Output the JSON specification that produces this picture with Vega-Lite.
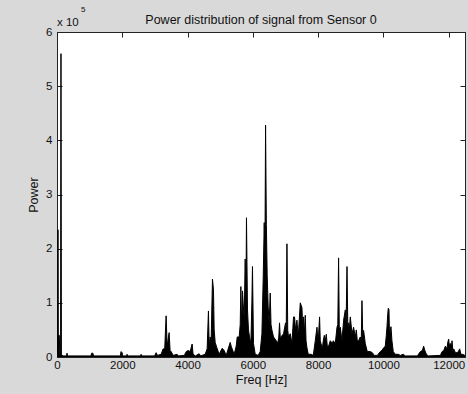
{
  "$schema": "https://vega.github.io/schema/vega-lite/v6.json",
  "width": 408,
  "height": 325,
  "autosize": {"type": "none"},
  "padding": {"left": 57, "top": 32, "right": 3, "bottom": 37},
  "background": "#d9d9d9",
  "config": {
    "view": {"fill": "white", "stroke": "#222", "strokeWidth": 1},
    "font": "Liberation Sans",
    "axis": {"labelFont": "Liberation Sans", "labelFontSize": 11.5, "labelColor": "#111", "titleFont": "Liberation Sans", "titleFontSize": 12.5, "titleFontWeight": "normal", "titleColor": "#111", "domainColor": "#222", "tickColor": "#222", "grid": false}
  },
  "data": {"values": [
    {"freq": 0, "power": 0.4}, {"freq": 20, "power": 0.4}, {"freq": 30, "power": 2.35}, {"freq": 40, "power": 0.4}, {"freq": 70, "power": 0.4}, {"freq": 85, "power": 0.05}, {"freq": 110, "power": 0.05}, {"freq": 122, "power": 5.6}, {"freq": 135, "power": 0.05}, {"freq": 180, "power": 0.02},
    {"freq": 290, "power": 0.02}, {"freq": 307, "power": 0.07}, {"freq": 325, "power": 0.02},
    {"freq": 1040, "power": 0.02}, {"freq": 1060, "power": 0.07}, {"freq": 1100, "power": 0.07}, {"freq": 1120, "power": 0.02},
    {"freq": 1940, "power": 0.02}, {"freq": 1963, "power": 0.1}, {"freq": 1990, "power": 0.02},
    {"freq": 2130, "power": 0.02}, {"freq": 2147, "power": 0.05}, {"freq": 2165, "power": 0.02},
    {"freq": 2560, "power": 0.02}, {"freq": 2576, "power": 0.05}, {"freq": 2595, "power": 0.02},
    {"freq": 2990, "power": 0.02}, {"freq": 3036, "power": 0.08}, {"freq": 3080, "power": 0.03},
    {"freq": 3190, "power": 0.05}, {"freq": 3251, "power": 0.15}, {"freq": 3300, "power": 0.15}, {"freq": 3343, "power": 0.76}, {"freq": 3375, "power": 0.2}, {"freq": 3435, "power": 0.45}, {"freq": 3465, "power": 0.12}, {"freq": 3496, "power": 0.1}, {"freq": 3560, "power": 0.03},
    {"freq": 3680, "power": 0.05}, {"freq": 3720, "power": 0.02},
    {"freq": 3900, "power": 0.03}, {"freq": 3960, "power": 0.1}, {"freq": 4018, "power": 0.12}, {"freq": 4080, "power": 0.1}, {"freq": 4140, "power": 0.24}, {"freq": 4170, "power": 0.05}, {"freq": 4240, "power": 0.02},
    {"freq": 4355, "power": 0.06}, {"freq": 4400, "power": 0.02},
    {"freq": 4539, "power": 0.05}, {"freq": 4600, "power": 0.15}, {"freq": 4640, "power": 0.85}, {"freq": 4662, "power": 0.2}, {"freq": 4692, "power": 0.37}, {"freq": 4723, "power": 0.3}, {"freq": 4763, "power": 1.44}, {"freq": 4794, "power": 1.24}, {"freq": 4815, "power": 0.5}, {"freq": 4846, "power": 0.27}, {"freq": 4898, "power": 0.17}, {"freq": 4968, "power": 0.05},
    {"freq": 5060, "power": 0.16}, {"freq": 5122, "power": 0.12}, {"freq": 5183, "power": 0.03},
    {"freq": 5306, "power": 0.27}, {"freq": 5337, "power": 0.2}, {"freq": 5367, "power": 0.15}, {"freq": 5429, "power": 0.05},
    {"freq": 5490, "power": 0.2}, {"freq": 5521, "power": 0.37}, {"freq": 5582, "power": 0.37}, {"freq": 5613, "power": 0.6}, {"freq": 5633, "power": 1.3}, {"freq": 5658, "power": 0.5}, {"freq": 5683, "power": 1.22}, {"freq": 5705, "power": 0.98}, {"freq": 5735, "power": 0.7}, {"freq": 5766, "power": 1.81}, {"freq": 5787, "power": 0.9}, {"freq": 5805, "power": 2.57}, {"freq": 5836, "power": 0.87}, {"freq": 5867, "power": 0.5}, {"freq": 5898, "power": 0.37}, {"freq": 5940, "power": 0.25}, {"freq": 5970, "power": 1.0}, {"freq": 5989, "power": 1.67}, {"freq": 6020, "power": 0.25}, {"freq": 6073, "power": 0.05}, {"freq": 6164, "power": 0.03},
    {"freq": 6226, "power": 0.1}, {"freq": 6278, "power": 0.43}, {"freq": 6318, "power": 1.48}, {"freq": 6349, "power": 2.48}, {"freq": 6370, "power": 1.8}, {"freq": 6390, "power": 4.28}, {"freq": 6414, "power": 2.45}, {"freq": 6440, "power": 1.5}, {"freq": 6470, "power": 0.93}, {"freq": 6500, "power": 0.6}, {"freq": 6532, "power": 1.18}, {"freq": 6557, "power": 0.6}, {"freq": 6584, "power": 0.5}, {"freq": 6633, "power": 0.37}, {"freq": 6716, "power": 0.3}, {"freq": 6756, "power": 0.25}, {"freq": 6793, "power": 0.35}, {"freq": 6818, "power": 0.63}, {"freq": 6845, "power": 0.3}, {"freq": 6860, "power": 0.37}, {"freq": 6940, "power": 0.43}, {"freq": 7002, "power": 0.63}, {"freq": 7023, "power": 0.5}, {"freq": 7045, "power": 2.09}, {"freq": 7069, "power": 0.5}, {"freq": 7094, "power": 0.37}, {"freq": 7146, "power": 0.43}, {"freq": 7198, "power": 0.25}, {"freq": 7247, "power": 0.74}, {"freq": 7278, "power": 0.74}, {"freq": 7309, "power": 0.5}, {"freq": 7351, "power": 0.68}, {"freq": 7391, "power": 0.37}, {"freq": 7453, "power": 1.0}, {"freq": 7505, "power": 0.91}, {"freq": 7530, "power": 0.5}, {"freq": 7554, "power": 0.74}, {"freq": 7576, "power": 0.4}, {"freq": 7606, "power": 0.77}, {"freq": 7630, "power": 0.3}, {"freq": 7658, "power": 0.17}, {"freq": 7698, "power": 0.05}, {"freq": 7790, "power": 0.05}, {"freq": 7852, "power": 0.03},
    {"freq": 7913, "power": 0.3}, {"freq": 7965, "power": 0.55}, {"freq": 7990, "power": 0.35}, {"freq": 8015, "power": 0.43}, {"freq": 8045, "power": 0.74}, {"freq": 8066, "power": 0.3}, {"freq": 8088, "power": 0.25}, {"freq": 8128, "power": 0.15}, {"freq": 8158, "power": 0.3}, {"freq": 8189, "power": 0.4}, {"freq": 8220, "power": 0.3}, {"freq": 8250, "power": 0.42}, {"freq": 8281, "power": 0.2}, {"freq": 8321, "power": 0.2}, {"freq": 8373, "power": 0.3}, {"freq": 8434, "power": 0.25}, {"freq": 8465, "power": 0.3}, {"freq": 8526, "power": 0.25}, {"freq": 8578, "power": 0.55}, {"freq": 8603, "power": 0.6}, {"freq": 8627, "power": 1.83}, {"freq": 8649, "power": 0.5}, {"freq": 8679, "power": 0.55}, {"freq": 8731, "power": 0.3}, {"freq": 8781, "power": 0.68}, {"freq": 8833, "power": 0.87}, {"freq": 8857, "power": 0.6}, {"freq": 8885, "power": 1.67}, {"freq": 8909, "power": 0.6}, {"freq": 8934, "power": 0.63}, {"freq": 8955, "power": 0.5}, {"freq": 8986, "power": 0.74}, {"freq": 9038, "power": 0.43}, {"freq": 9087, "power": 0.55}, {"freq": 9139, "power": 0.37}, {"freq": 9170, "power": 0.5}, {"freq": 9200, "power": 0.3}, {"freq": 9240, "power": 0.3}, {"freq": 9292, "power": 0.37}, {"freq": 9322, "power": 0.3}, {"freq": 9343, "power": 1.04}, {"freq": 9368, "power": 0.4}, {"freq": 9393, "power": 0.49}, {"freq": 9445, "power": 0.25}, {"freq": 9506, "power": 0.1}, {"freq": 9598, "power": 0.1}, {"freq": 9660, "power": 0.08}, {"freq": 9721, "power": 0.03}, {"freq": 9813, "power": 0.03},
    {"freq": 9905, "power": 0.1}, {"freq": 9966, "power": 0.13}, {"freq": 10006, "power": 0.17}, {"freq": 10058, "power": 0.2}, {"freq": 10089, "power": 0.4}, {"freq": 10110, "power": 0.56}, {"freq": 10134, "power": 0.8}, {"freq": 10150, "power": 0.9}, {"freq": 10171, "power": 0.88}, {"freq": 10190, "power": 0.3}, {"freq": 10211, "power": 0.5}, {"freq": 10232, "power": 0.56}, {"freq": 10262, "power": 0.3}, {"freq": 10302, "power": 0.1}, {"freq": 10364, "power": 0.05}, {"freq": 10456, "power": 0.05}, {"freq": 10517, "power": 0.03}, {"freq": 10609, "power": 0.05}, {"freq": 10671, "power": 0.02},
    {"freq": 11040, "power": 0.02}, {"freq": 11132, "power": 0.1}, {"freq": 11194, "power": 0.12}, {"freq": 11233, "power": 0.2}, {"freq": 11270, "power": 0.12}, {"freq": 11317, "power": 0.05}, {"freq": 11378, "power": 0.02},
    {"freq": 11746, "power": 0.03}, {"freq": 11798, "power": 0.1}, {"freq": 11848, "power": 0.12}, {"freq": 11899, "power": 0.2}, {"freq": 11945, "power": 0.15}, {"freq": 11976, "power": 0.28}, {"freq": 12000, "power": 0.33}, {"freq": 12022, "power": 0.2}, {"freq": 12052, "power": 0.25}, {"freq": 12083, "power": 0.18}, {"freq": 12103, "power": 0.3}, {"freq": 12128, "power": 0.12}, {"freq": 12155, "power": 0.15}, {"freq": 12206, "power": 0.08}, {"freq": 12257, "power": 0.08}, {"freq": 12296, "power": 0.1}, {"freq": 12337, "power": 0.15}, {"freq": 12374, "power": 0.05}, {"freq": 12420, "power": 0.05}, {"freq": 12500, "power": 0.03}
  ]},
  "layer": [
    {
      "mark": {"type": "area", "color": "black", "opacity": 1, "fillOpacity": 1, "interpolate": "linear", "line": {"color": "black", "strokeWidth": 1}},
      "encoding": {
        "x": {"field": "freq", "type": "quantitative", "scale": {"domain": [0, 12500], "nice": false, "zero": false},
              "axis": {"orient": "bottom", "title": "Freq [Hz]", "values": [0, 2000, 4000, 6000, 8000, 10000, 12000], "format": "d", "tickSize": -5, "labelPadding": 7, "labelFlush": false, "titlePadding": 3}},
        "y": {"field": "power", "type": "quantitative", "scale": {"domain": [0, 6], "nice": false},
              "axis": {"orient": "left", "title": "Power", "values": [0, 1, 2, 3, 4, 5, 6], "tickSize": -5, "labelPadding": 10, "titlePadding": 5, "labelFlush": false}}
      }
    },
    {
      "mark": {"type": "point", "opacity": 0},
      "encoding": {
        "x": {"field": "freq", "type": "quantitative", "axis": {"orient": "top", "title": null, "labels": false, "values": [0, 2000, 4000, 6000, 8000, 10000, 12000], "tickSize": -5}},
        "y": {"field": "power", "type": "quantitative", "axis": {"orient": "right", "title": null, "labels": false, "values": [0, 1, 2, 3, 4, 5, 6], "tickSize": -5}}
      }
    },
    {
      "data": {"values": [{"label": "Power distribution of signal from Sensor 0", "fx": 6250, "py": 6}]},
      "mark": {"type": "text", "align": "center", "baseline": "alphabetic", "fontSize": 12.5, "font": "Liberation Sans", "color": "#111", "dy": -8},
      "encoding": {"x": {"field": "fx", "type": "quantitative", "axis": null}, "y": {"field": "py", "type": "quantitative", "axis": null}, "text": {"field": "label"}}
    },
    {
      "data": {"values": [{"label": "x 10", "fx": 0, "py": 6}]},
      "mark": {"type": "text", "align": "left", "baseline": "alphabetic", "fontSize": 11.5, "font": "Liberation Sans", "color": "#111", "dy": -6},
      "encoding": {"x": {"field": "fx", "type": "quantitative", "axis": null}, "y": {"field": "py", "type": "quantitative", "axis": null}, "text": {"field": "label"}}
    },
    {
      "data": {"values": [{"label": "5", "fx": 0, "py": 6}]},
      "mark": {"type": "text", "align": "left", "baseline": "alphabetic", "fontSize": 8, "font": "Liberation Sans", "color": "#111", "dx": 24, "dy": -20},
      "encoding": {"x": {"field": "fx", "type": "quantitative", "axis": null}, "y": {"field": "py", "type": "quantitative", "axis": null}, "text": {"field": "label"}}
    }
  ],
  "resolve": {"axis": {"x": "independent", "y": "independent"}}
}
